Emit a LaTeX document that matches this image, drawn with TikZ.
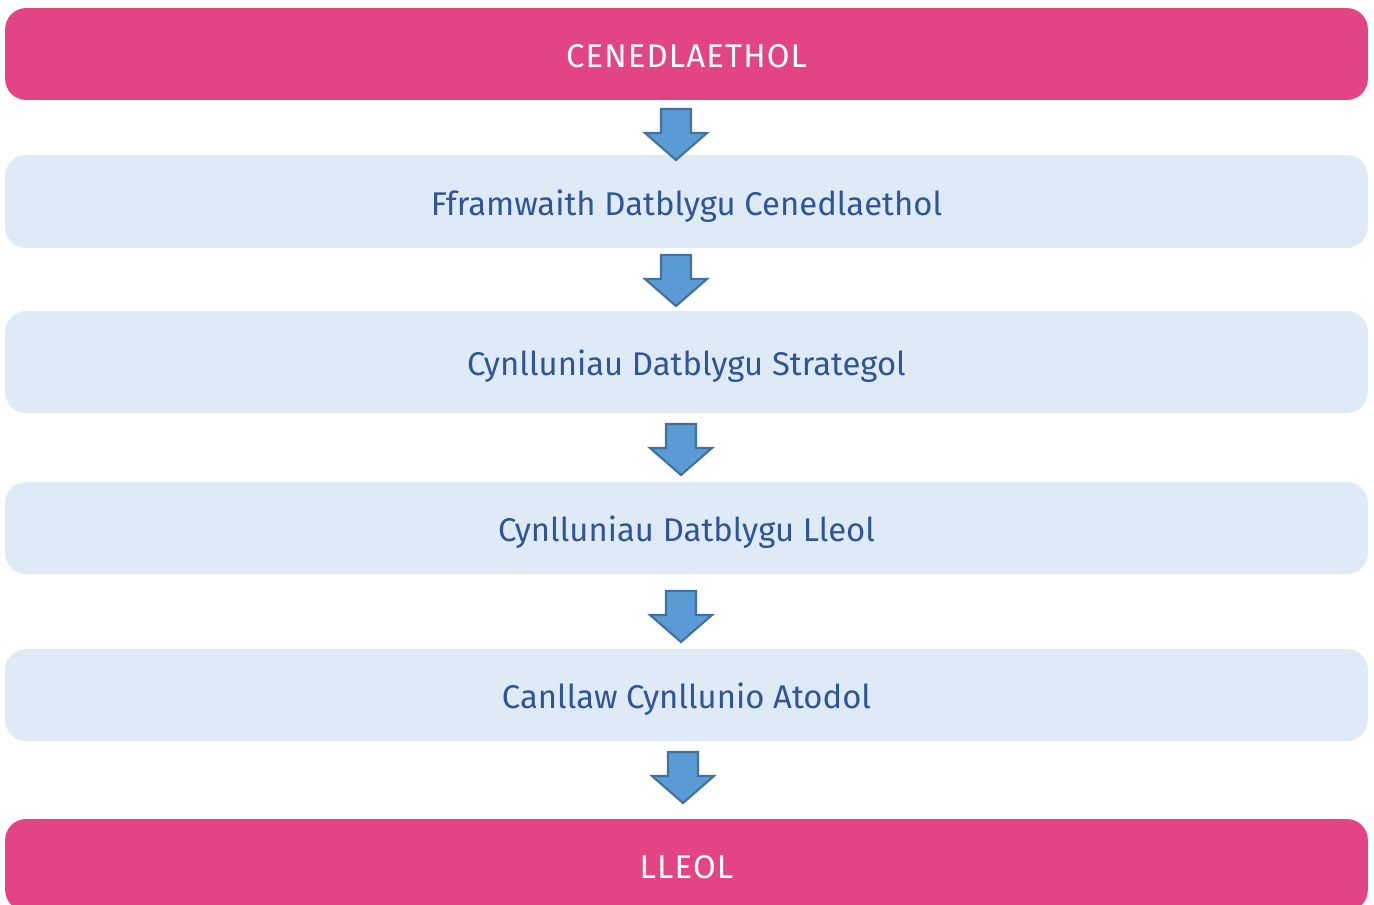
\documentclass[tikz,border=0pt]{standalone}
\usepackage{fontspec}
\setmainfont{Fira Sans}
\newfontfamily\levelfont{Fira Sans}[LetterSpace=3.5]
\usepackage{tikz}
\usetikzlibrary{positioning}
\definecolor{levelpink}{RGB}{226,68,134}
\definecolor{stagebg}{RGB}{222,234,246}
\definecolor{stagetext}{RGB}{47,85,151}
\definecolor{arrowfill}{RGB}{91,155,213}
\definecolor{arrowline}{RGB}{65,113,156}

\begin{document}
\begin{tikzpicture}[x=0.02cm, y=-0.02cm,
    every node/.style={font=\fontsize{18.7}{22}\selectfont, text depth=0pt, text height=15.7pt},
    level/.style={fill=levelpink, text=white, font=\fontsize{18.7}{22}\levelfont, rounded corners=12, minimum width=27.26cm, minimum height=1.84cm, inner sep=0pt},
    stage/.style={fill=stagebg, text=stagetext, rounded corners=12, minimum width=27.26cm, minimum height=1.84cm, inner sep=0pt},
    downarr/.pic={
      \draw[arrowline, fill=arrowfill, line width=1.2pt, line join=miter]
        (-15,0) -- (15,0) -- (15,24) -- (31,24) -- (0,51) -- (-31,24) -- (-15,24) -- cycle;
    }]
  \useasboundingbox (0,0) rectangle (1374,904);
  % levels and plans
  \node[level] (natl) at (686.5,54) {CENEDLAETHOL};
  \node[stage, minimum height=1.86cm] (ndf) at (686.5,201.5) {Fframwaith Datblygu Cenedlaethol};
  \node[stage, minimum height=2.04cm] (sdp) at (686.5,362) {Cynlluniau Datblygu Strategol};
  \node[stage] (ldp) at (686.5,528) {Cynlluniau Datblygu Lleol};
  \node[stage] (spg) at (686.5,695) {Canllaw Cynllunio Atodol};
  \node[level] (local) at (686.5,865) {LLEOL};
  % block arrows
  \pic at (676,109) {downarr};
  \pic at (676,255) {downarr};
  \pic at (681,424) {downarr};
  \pic at (681,591) {downarr};
  \pic at (683,752) {downarr};
\end{tikzpicture}
\end{document}
